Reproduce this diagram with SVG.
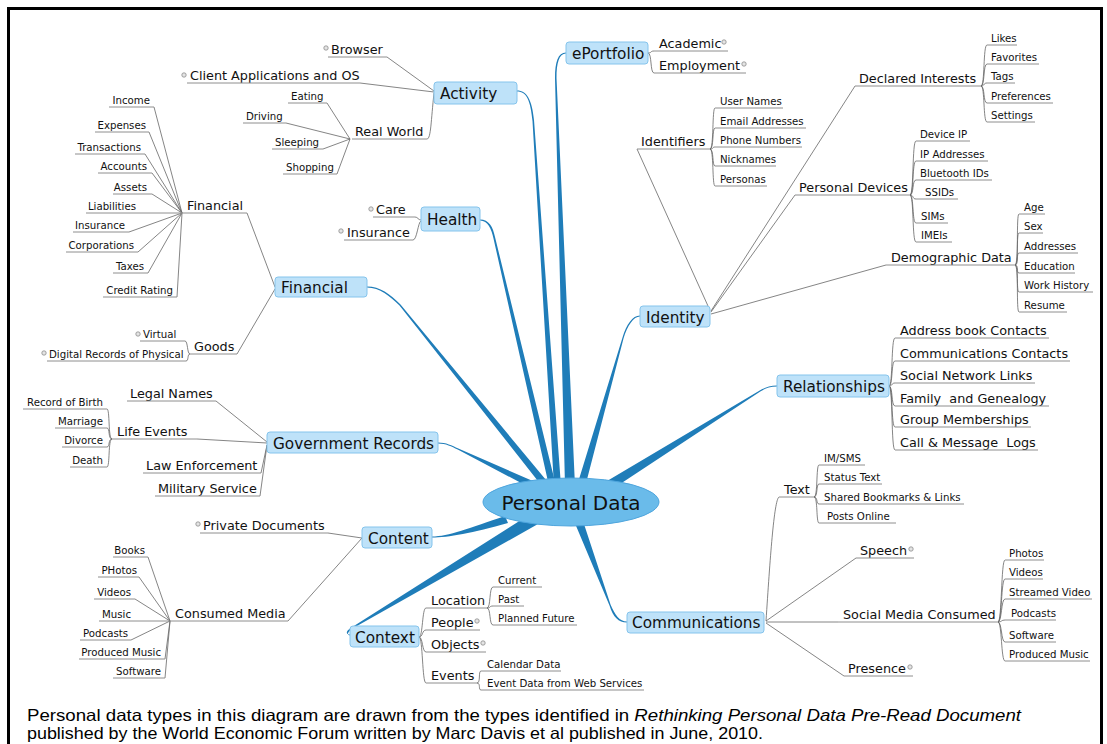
<svg xmlns="http://www.w3.org/2000/svg" width="1107" height="744" viewBox="0 0 1107 744">
<style>
.n{fill:#bee2f9;stroke:#85c4ec;stroke-width:1}
text{font-family:"DejaVu Sans",Verdana,sans-serif;fill:#111}
.t1{font-size:15.3px}
.t2{font-size:12.8px}
.t3{font-size:10.2px}
.e{text-anchor:end}
.u{fill:none;stroke:#8e8e8e;stroke-width:1}
.l{fill:none;stroke:#666;stroke-width:0.8}
.tp{fill:#1f7db9}
.b{fill:#e4e4e4;stroke:#8c8c8c;stroke-width:0.8}
.cap{font-family:"Liberation Sans",Arial,sans-serif;font-size:16.5px;fill:#000}
</style>
<rect x="0" y="0" width="1107" height="744" fill="#fff"/>
<rect x="8.5" y="8.5" width="1093" height="780" fill="none" stroke="#000" stroke-width="3"/>

<g id="connectors">
<path class="tp" d="M517,90.5C527,90.5 532,100 534,120L561,486L554,486L532.5,121C530.5,101 527,91.5 517,91.5Z"/>
<path class="tp" d="M566,52.5C558,52.5 555,62 555,78L565,486L575,486L556.5,78C556.5,63 559,53.5 566,53.5Z"/>
<path class="tp" d="M480,219.5C489,219.5 493,227 495,237L556,486L549,486L493.5,238.5C491.5,229 488,220.5 480,220.5Z"/>
<path class="tp" d="M367,286.5C380,286.5 390,294 400.5,304.5L551,486L545,490L399.5,305.5C389.5,296 380,287.5 367,287.5Z"/>
<path class="tp" d="M438,442.5C446,442.5 452,445.5 458.3,448.5L542,485L538,492L457.7,449.5C451.5,446.5 446,443.5 438,443.5Z"/>
<path class="tp" d="M432,536.5C448,536.5 470,528 505,516L508,523C473,533 448,537.5 432,537.5Z"/>
<path class="tp" d="M350,634.5C345.5,634.5 345.5,631 351.5,627.5L532,513L538,524L352.5,628.5C347,632 347,635.5 350,635.5Z"/>
<path class="tp" d="M627,621.5C619.5,621.5 615,615 610.5,604.5L582,518L574,521L609.5,605.5C613,617 618.5,622.5 627,622.5Z"/>
<path class="tp" d="M640,315.5C632.5,315.5 626.5,324.5 622.5,337.5L576,489L584,491L623.5,338.5C627.5,325.5 633.5,316.5 640,316.5Z"/>
<path class="tp" d="M777,385.5C770,385.5 765,387.5 759.7,390.5L602,484L608,492L760.3,391.5C765,388.5 770,386.5 777,386.5Z"/>

<path class="l" d="M387,57L434,91M360,83L434,92M427,139C431,139 431,120 434,93"/>
<path class="l" d="M327,103L350,139M286,123L350,139M323,149L350,139M337,174L350,139"/>
<path class="l" d="M648,53C652,53 650,51 654,51M648,53C652,53 650,73 654,73"/>
<path class="l" d="M637,149L708,306M855,86L711,311M795,195L711,312M886,265L711,314"/>
<path class="l" d="M710,149C714,149 712,108 715,108M710,149C714,149 712,128 715,128M710,149C714,149 712,147 715,147M710,149C714,149 712,166 715,166M710,149C714,149 712,186 715,186"/>
<path class="l" d="M981,86C985,86 983,45 987,45M981,86C985,86 983,64 987,64M981,86C985,86 983,83 987,83M981,86C985,86 983,103 987,103M981,86C985,86 983,122 987,122"/>
<path class="l" d="M910,195C914,195 912,141 916,141M910,195C914,195 912,161 916,161M910,195C914,195 912,180 916,180M910,195C914,195 912,199 916,199M910,195C914,195 912,223 916,223M910,195C914,195 912,242 916,242"/>
<path class="l" d="M1015,265C1019,265 1016,214 1019,214M1015,265C1019,265 1016,233 1019,233M1015,265C1019,265 1016,253 1019,253M1015,265C1019,265 1016,273 1019,273M1015,265C1019,265 1016,292 1019,292M1015,265C1019,265 1016,312 1019,312"/>
<path class="l" d="M889,386C893,386 891,338 895,338M889,386C893,386 891,361 895,361M889,386C893,386 891,383 895,383M889,386C893,386 891,406 895,406M889,386C893,386 891,427 895,427M889,386C893,386 891,450 895,450"/>
<path class="l" d="M779,497C774,500 770,560 766,621M856,558L766,621M766,622L838,622M766,623L844,676"/>
<path class="l" d="M814,497C818,497 816,465 819,465M814,497C818,497 816,484 819,484M814,497C818,497 816,504 819,504M814,497C818,497 816,523 819,523"/>
<path class="l" d="M998,622C1002,622 1001,560 1005,560M998,622C1002,622 1001,579 1005,579M998,622C1002,622 1001,599 1005,599M998,622C1002,622 1001,620 1005,620M998,622C1002,622 1001,642 1005,642M998,622C1002,622 1001,661 1005,661"/>
<path class="l" d="M419,637C423,637 422,608 426,608M419,637C423,637 422,630 426,630M419,637C423,637 422,652 426,652M419,637C423,637 422,683 426,683"/>
<path class="l" d="M487,608C491,608 489,587 493,587M487,608C491,608 489,606 493,606M487,608C491,608 489,625 493,625"/>
<path class="l" d="M477,683C481,683 478,671 481,671M477,683C481,683 478,690 481,690"/>
<path class="l" d="M328,533L362,538M288,621L362,538"/>
<path class="l" d="M148,557L170,621M139,577L170,621M135,599L170,621M131,640L170,621M165,659L170,621M165,678L170,621"/>
<path class="l" d="M216,401L267,442M197,439L267,443M261,473L267,445M260,496L267,445"/>
<path class="l" d="M112,439C108,439 110,409 107,409M112,439C108,439 110,428 107,428M112,439C108,439 110,447 107,447M112,439C108,439 110,467 107,467"/>
<path class="l" d="M247,213L275,287M237,354L275,289"/>
<path class="l" d="M154,107L182,213M149,132L182,213M145,154L182,213M152,173L182,213M152,194L182,213M129,232L182,213M138,252L182,213M148,273L182,213M177,297L182,213"/>
<path class="l" d="M190,354C187,354 188,341 185,341M190,354C187,354 189,361 186,361"/>
<path class="l" d="M415,217C418,217 418,220 421,220M413,240C417,240 418,222 421,221"/>
</g>

<g id="personal-data"><ellipse cx="571" cy="502" rx="88" ry="24" fill="#6abbea" stroke="#4ea5dd"/><text x="571" y="510" text-anchor="middle" font-size="20">Personal Data</text></g>

<g id="activity"><rect class="n" x="434" y="82" width="83" height="22" rx="3"/><text class="t1" x="440" y="99">Activity</text></g>
<g id="browser"><circle class="b" cx="326" cy="48" r="2.2"/><text class="t2" x="331" y="53.5">Browser</text><path class="u" d="M328,57H387"/></g>
<g id="client-apps"><circle class="b" cx="184" cy="75" r="2.2"/><text class="t2" x="190" y="79.5">Client Applications and OS</text><path class="u" d="M187,83H360"/></g>
<g id="real-world"><text class="t2" x="355" y="135.5">Real World</text><path class="u" d="M352,139H427"/></g>
<g id="eating"><text class="t3" x="291" y="100">Eating</text><path class="u" d="M288,103H327"/></g>
<g id="driving"><text class="t3" x="246" y="120">Driving</text><path class="u" d="M243,123H286"/></g>
<g id="sleeping"><text class="t3" x="275" y="146">Sleeping</text><path class="u" d="M272,149H323"/></g>
<g id="shopping"><text class="t3" x="286" y="171">Shopping</text><path class="u" d="M283,174H337"/></g>

<g id="eportfolio"><rect class="n" x="566" y="42" width="82" height="22" rx="3"/><text class="t1" x="572" y="59">ePortfolio</text></g>
<g id="academic"><text class="t2" x="659" y="47.5">Academic</text><circle class="b" cx="724" cy="42" r="2.2"/><path class="u" d="M654,51H728"/></g>
<g id="employment"><text class="t2" x="659" y="69.5">Employment</text><circle class="b" cx="744" cy="64" r="2.2"/><path class="u" d="M654,73H746"/></g>

<g id="health"><rect class="n" x="421" y="207" width="59" height="24" rx="3"/><text class="t1" x="427" y="225">Health</text></g>
<g id="care"><circle class="b" cx="371" cy="209" r="2.2"/><text class="t2" x="376" y="213.5">Care</text><path class="u" d="M373,217H415"/></g>
<g id="health-insurance"><circle class="b" cx="341" cy="231" r="2.2"/><text class="t2" x="347" y="236.5">Insurance</text><path class="u" d="M344,240H413"/></g>

<g id="financial"><rect class="n" x="275" y="277" width="92" height="20" rx="3"/><text class="t1" x="281" y="293">Financial</text></g>
<g id="financial-sub"><text class="t2" x="187" y="209.5">Financial</text><path class="u" d="M180,213H247"/></g>
<g id="income"><text class="t3 e" x="150" y="104">Income</text><path class="u" d="M109,107H154"/></g>
<g id="expenses"><text class="t3 e" x="146" y="129">Expenses</text><path class="u" d="M95,132H149"/></g>
<g id="transactions"><text class="t3 e" x="141" y="151">Transactions</text><path class="u" d="M75,154H145"/></g>
<g id="accounts"><text class="t3 e" x="147" y="170">Accounts</text><path class="u" d="M98,173H152"/></g>
<g id="assets"><text class="t3 e" x="147" y="191">Assets</text><path class="u" d="M113,194H152"/></g>
<g id="liabilities"><text class="t3 e" x="136" y="210">Liabilities</text><path class="u" d="M86,213H182"/></g>
<g id="insurance"><text class="t3 e" x="125" y="229">Insurance</text><path class="u" d="M73,232H129"/></g>
<g id="corporations"><text class="t3 e" x="134" y="249">Corporations</text><path class="u" d="M66,252H138"/></g>
<g id="taxes"><text class="t3 e" x="144" y="270">Taxes</text><path class="u" d="M113,273H148"/></g>
<g id="credit-rating"><text class="t3 e" x="173" y="294">Credit Rating</text><path class="u" d="M103,297H177"/></g>
<g id="goods"><text class="t2" x="194" y="350.5">Goods</text><path class="u" d="M190,354H237"/></g>
<g id="virtual"><circle class="b" cx="138" cy="334" r="2.2"/><text class="t3" x="143" y="338">Virtual</text><path class="u" d="M140,341H185"/></g>
<g id="digital-records"><circle class="b" cx="44" cy="353" r="2.2"/><text class="t3" x="49" y="358">Digital Records of Physical</text><path class="u" d="M47,361H186"/></g>

<g id="identity"><rect class="n" x="640" y="306" width="70" height="21" rx="3"/><text class="t1" x="646" y="323">Identity</text></g>
<g id="identifiers"><text class="t2" x="641" y="145.5">Identifiers</text><path class="u" d="M637,149H710"/></g>
<g id="user-names"><text class="t3" x="720" y="105">User Names</text><path class="u" d="M715,108H783"/></g>
<g id="email"><text class="t3" x="720" y="125">Email Addresses</text><path class="u" d="M715,128H806"/></g>
<g id="phone"><text class="t3" x="720" y="144">Phone Numbers</text><path class="u" d="M715,147H802"/></g>
<g id="nicknames"><text class="t3" x="720" y="163">Nicknames</text><path class="u" d="M715,166H776"/></g>
<g id="personas"><text class="t3" x="720" y="183">Personas</text><path class="u" d="M715,186H767"/></g>
<g id="declared-interests"><text class="t2" x="859" y="82.5">Declared Interests</text><path class="u" d="M855,86H981"/></g>
<g id="likes"><text class="t3" x="991" y="42">Likes</text><path class="u" d="M987,45H1017"/></g>
<g id="favorites"><text class="t3" x="991" y="61">Favorites</text><path class="u" d="M987,64H1039"/></g>
<g id="tags"><text class="t3" x="991" y="80">Tags</text><path class="u" d="M987,83H1015"/></g>
<g id="preferences"><text class="t3" x="991" y="100">Preferences</text><path class="u" d="M987,103H1053"/></g>
<g id="settings"><text class="t3" x="991" y="119">Settings</text><path class="u" d="M987,122H1035"/></g>
<g id="personal-devices"><text class="t2" x="799" y="191.5">Personal Devices</text><path class="u" d="M795,195H910"/></g>
<g id="device-ip"><text class="t3" x="920" y="138">Device IP</text><path class="u" d="M916,141H970"/></g>
<g id="ip-addresses"><text class="t3" x="920" y="158">IP Addresses</text><path class="u" d="M916,161H988"/></g>
<g id="bluetooth"><text class="t3" x="920" y="177">Bluetooth IDs</text><path class="u" d="M916,180H992"/></g>
<g id="ssids"><text class="t3" x="925" y="196">SSIDs</text><path class="u" d="M916,199H958"/></g>
<g id="sims"><text class="t3" x="921" y="220">SIMs</text><path class="u" d="M916,223H948"/></g>
<g id="imeis"><text class="t3" x="921" y="239">IMEIs</text><path class="u" d="M916,242H952"/></g>
<g id="demographic"><text class="t2" x="891" y="261.5">Demographic Data</text><path class="u" d="M886,265H1015"/></g>
<g id="age"><text class="t3" x="1024" y="211">Age</text><path class="u" d="M1019,214H1045"/></g>
<g id="sex"><text class="t3" x="1024" y="230">Sex</text><path class="u" d="M1019,233H1043"/></g>
<g id="addresses"><text class="t3" x="1024" y="250">Addresses</text><path class="u" d="M1019,253H1078"/></g>
<g id="education"><text class="t3" x="1024" y="270">Education</text><path class="u" d="M1019,273H1075"/></g>
<g id="work-history"><text class="t3" x="1024" y="289">Work History</text><path class="u" d="M1019,292H1093"/></g>
<g id="resume"><text class="t3" x="1024" y="309">Resume</text><path class="u" d="M1019,312H1067"/></g>

<g id="relationships"><rect class="n" x="777" y="375" width="112" height="22" rx="3"/><text class="t1" x="783" y="392">Relationships</text></g>
<g id="address-book"><text class="t2" x="900" y="334.5">Address book Contacts</text><path class="u" d="M895,338H1049"/></g>
<g id="comm-contacts"><text class="t2" x="900" y="357.5">Communications Contacts</text><path class="u" d="M895,361H1070"/></g>
<g id="social-links"><text class="t2" x="900" y="379.5">Social Network Links</text><path class="u" d="M895,383H1035"/></g>
<g id="family"><text class="t2" x="900" y="402.5" xml:space="preserve">Family  and Genealogy</text><path class="u" d="M895,406H1049"/></g>
<g id="group-memberships"><text class="t2" x="900" y="423.5">Group Memberships</text><path class="u" d="M895,427H1031"/></g>
<g id="call-logs"><text class="t2" x="900" y="446.5" xml:space="preserve">Call &amp; Message  Logs</text><path class="u" d="M895,450H1038"/></g>

<g id="government-records"><rect class="n" x="267" y="432" width="171" height="21" rx="3"/><text class="t1" x="273" y="449">Government Records</text></g>
<g id="legal-names"><text class="t2" x="130" y="397.5">Legal Names</text><path class="u" d="M127,401H216"/></g>
<g id="life-events"><text class="t2" x="117" y="435.5">Life Events</text><path class="u" d="M112,439H197"/></g>
<g id="birth"><text class="t3 e" x="103" y="406">Record of Birth</text><path class="u" d="M23,409H107"/></g>
<g id="marriage"><text class="t3 e" x="103" y="425">Marriage</text><path class="u" d="M55,428H107"/></g>
<g id="divorce"><text class="t3 e" x="103" y="444">Divorce</text><path class="u" d="M62,447H107"/></g>
<g id="death"><text class="t3 e" x="103" y="464">Death</text><path class="u" d="M70,467H107"/></g>
<g id="law-enforcement"><text class="t2" x="146" y="469.5">Law Enforcement</text><path class="u" d="M143,473H261"/></g>
<g id="military"><text class="t2" x="158" y="492.5">Military Service</text><path class="u" d="M155,496H260"/></g>

<g id="content"><rect class="n" x="362" y="527" width="70" height="21" rx="3"/><text class="t1" x="368" y="544">Content</text></g>
<g id="private-docs"><circle class="b" cx="198" cy="524" r="2.2"/><text class="t2" x="203" y="529.5">Private Documents</text><path class="u" d="M200,533H328"/></g>
<g id="consumed-media"><text class="t2" x="175" y="617.5">Consumed Media</text><path class="u" d="M170,621H288"/></g>
<g id="books"><text class="t3 e" x="145" y="554">Books</text><path class="u" d="M113,557H148"/></g>
<g id="photos-c"><text class="t3 e" x="137" y="574">PHotos</text><path class="u" d="M98,577H139"/></g>
<g id="videos-c"><text class="t3 e" x="131" y="596">Videos</text><path class="u" d="M94,599H135"/></g>
<g id="music"><text class="t3 e" x="131" y="618">Music</text><path class="u" d="M99,621H170"/></g>
<g id="podcasts-c"><text class="t3 e" x="128" y="637">Podcasts</text><path class="u" d="M80,640H131"/></g>
<g id="produced-music-c"><text class="t3 e" x="161" y="656">Produced Music</text><path class="u" d="M79,659H165"/></g>
<g id="software-c"><text class="t3 e" x="161" y="675">Software</text><path class="u" d="M113,678H165"/></g>

<g id="context"><rect class="n" x="350" y="626" width="69" height="21" rx="3"/><text class="t1" x="355" y="643">Context</text></g>
<g id="location"><text class="t2" x="431" y="604.5">Location</text><path class="u" d="M426,608H487"/></g>
<g id="current"><text class="t3" x="498" y="584">Current</text><path class="u" d="M493,587H542"/></g>
<g id="past"><text class="t3" x="498" y="603">Past</text><path class="u" d="M493,606H524"/></g>
<g id="planned"><text class="t3" x="498" y="622">Planned Future</text><path class="u" d="M493,625H577"/></g>
<g id="people"><text class="t2" x="431" y="626.5">People</text><circle class="b" cx="477" cy="621" r="2.2"/><path class="u" d="M426,630H480"/></g>
<g id="objects"><text class="t2" x="431" y="648.5">Objects</text><circle class="b" cx="483" cy="643" r="2.2"/><path class="u" d="M426,652H486"/></g>
<g id="events"><text class="t2" x="431" y="679.5">Events</text><path class="u" d="M426,683H477"/></g>
<g id="calendar"><text class="t3" x="487" y="668">Calendar Data</text><path class="u" d="M481,671H561"/></g>
<g id="event-data"><text class="t3" x="487" y="687">Event Data from Web Services</text><path class="u" d="M481,690H644"/></g>

<g id="communications"><rect class="n" x="627" y="612" width="137" height="21" rx="3"/><text class="t1" x="632" y="628">Communications</text></g>
<g id="text"><text class="t2" x="784" y="493.5">Text</text><path class="u" d="M779,497H814"/></g>
<g id="im-sms"><text class="t3" x="824" y="462">IM/SMS</text><path class="u" d="M819,465H865"/></g>
<g id="status"><text class="t3" x="824" y="481">Status Text</text><path class="u" d="M819,484H882"/></g>
<g id="bookmarks"><text class="t3" x="824" y="501">Shared Bookmarks &amp; Links</text><path class="u" d="M819,504H964"/></g>
<g id="posts"><text class="t3" x="827" y="520">Posts Online</text><path class="u" d="M819,523H896"/></g>
<g id="speech"><text class="t2" x="860" y="554.5">Speech</text><circle class="b" cx="911" cy="549" r="2.2"/><path class="u" d="M856,558H914"/></g>
<g id="social-media"><text class="t2" x="843" y="618.5">Social Media Consumed</text><path class="u" d="M838,622H998"/></g>
<g id="photos"><text class="t3" x="1009" y="557">Photos</text><path class="u" d="M1005,560H1044"/></g>
<g id="videos"><text class="t3" x="1009" y="576">Videos</text><path class="u" d="M1005,579H1043"/></g>
<g id="streamed"><text class="t3" x="1009" y="596">Streamed Video</text><path class="u" d="M1005,599H1092"/></g>
<g id="podcasts"><text class="t3" x="1011" y="617">Podcasts</text><path class="u" d="M1005,620H1056"/></g>
<g id="software"><text class="t3" x="1009" y="639">Software</text><path class="u" d="M1005,642H1056"/></g>
<g id="produced-music"><text class="t3" x="1009" y="658">Produced Music</text><path class="u" d="M1005,661H1090"/></g>
<g id="presence"><text class="t2" x="848" y="672.5">Presence</text><circle class="b" cx="910" cy="667" r="2.2"/><path class="u" d="M844,676H913"/></g>

<g id="caption">
<text class="cap" x="27" y="721" textLength="994" lengthAdjust="spacingAndGlyphs">Personal data types in this diagram are drawn from the types identified in <tspan font-style="italic">Rethinking Personal Data Pre-Read Document</tspan></text>
<text class="cap" x="27" y="739" textLength="736" lengthAdjust="spacingAndGlyphs">published by the World Economic Forum written by Marc Davis et al published in June, 2010.</text>
</g>
</svg>
